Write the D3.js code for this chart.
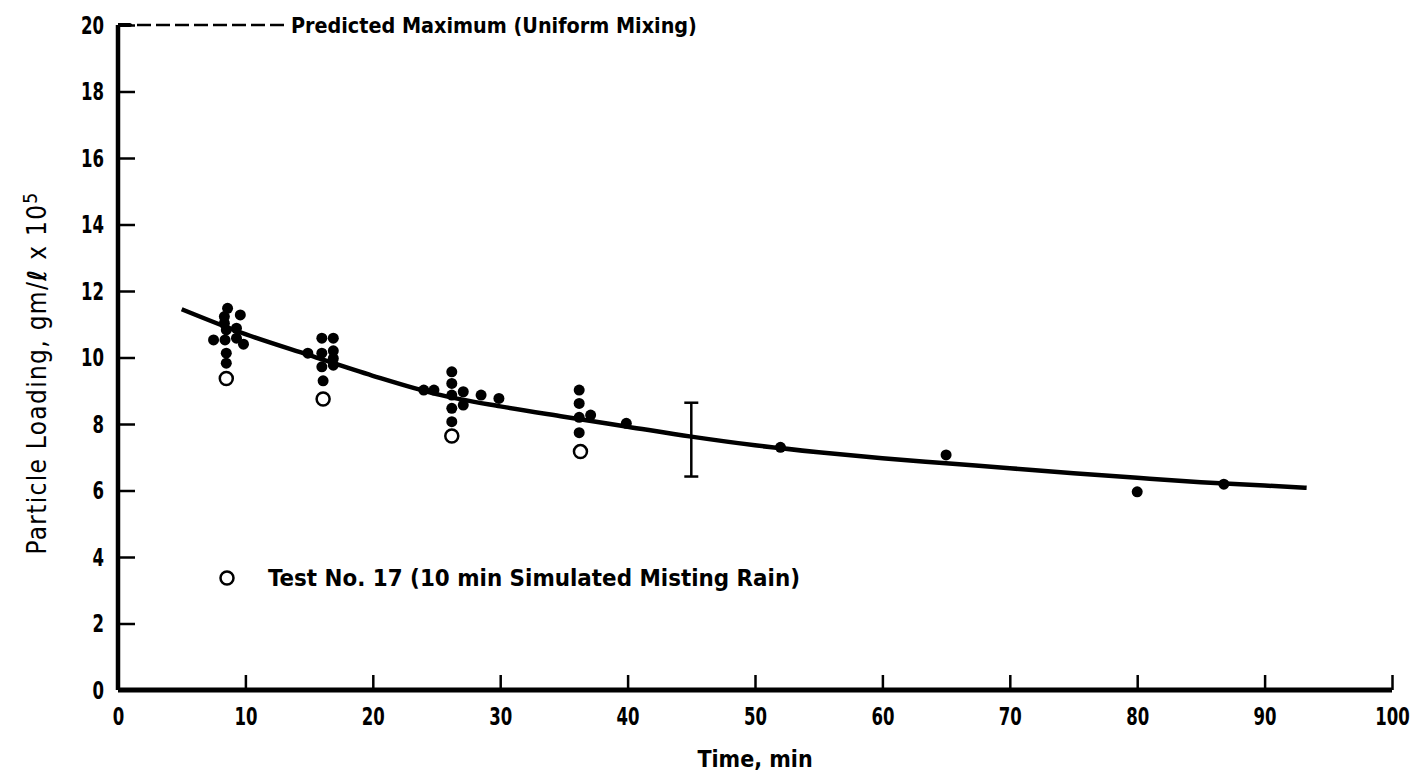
<!DOCTYPE html>
<html>
<head>
<meta charset="utf-8">
<script src="https://cdn.jsdelivr.net/npm/d3@7/dist/d3.min.js"></script>
<style>
  body { margin: 0; background: #fff; }
  text { font-family: "DejaVu Sans Condensed", "DejaVu Sans", sans-serif; font-weight: bold; fill: #000; }
</style>
</head>
<body>
<div id="chart"></div>
<script>
//tick labels
var xTicks = [0, 10, 20, 30, 40, 50, 60, 70, 80, 90, 100];
var yTicks = [0, 2, 4, 6, 8, 10, 12, 14, 16, 18, 20];

//measured particle loading (time, value)
var measuredX = [7.5, 8.35, 8.35, 8.4, 8.5, 8.5, 8.5, 8.6, 9.3, 9.3, 9.6, 9.85,
  14.9, 16.0, 16.0, 16.0, 16.1, 16.9, 16.9, 16.9, 16.9,
  24.0, 24.8, 26.2, 26.2, 26.2, 26.2, 26.2, 27.1, 27.1, 28.5, 29.9,
  36.2, 36.2, 36.2, 36.2, 37.1, 39.9,
  52, 65, 80, 86.8];
var measuredY = [10.53, 11.23, 11.03, 10.53, 10.83, 10.13, 9.83, 11.48, 10.88, 10.58, 11.28, 10.4,
  10.13, 10.58, 10.13, 9.72, 9.3, 10.58, 10.2, 9.97, 9.77,
  9.02, 9.02, 9.57, 9.22, 8.87, 8.47, 8.07, 8.97, 8.57, 8.87, 8.77,
  9.02, 8.62, 8.2, 7.74, 8.27, 8.02,
  7.3, 7.07, 5.96, 6.19];

//test no. 17 (open circles)
var test17X = [8.5, 16.1, 26.2, 36.3];
var test17Y = [9.37, 8.75, 7.64, 7.17];

//fitted curve
var curveX = [5, 10, 15, 20, 25, 30, 35, 40, 45, 50, 55, 60, 65, 70, 75, 80, 85, 90, 93.3];
var curveY = [11.45, 10.7, 10.07, 9.45, 8.9, 8.53, 8.22, 7.92, 7.62, 7.36, 7.15, 6.97, 6.82, 6.67, 6.52, 6.38, 6.25, 6.15, 6.08];

//error bar at 45 min
var errX = 45, errLow = 6.42, errHigh = 8.64;

//predicted maximum (uniform mixing)
var predictedY = 20, predictedEnd = 13.1;

var margin = {top: 25, right: 27, bottom: 93, left: 118},
width = 1419 - margin.left - margin.right,
height = 783 - margin.top - margin.bottom;

var svg = d3.select("#chart")
.append("svg")
.attr("width", width + margin.left + margin.right)
.attr("height", height + margin.top + margin.bottom)
.append("g")
.attr("transform", "translate(" + margin.left + "," + margin.top + ")");

var x = d3.scaleLinear().domain([0, 100]).range([0, width]);
var y = d3.scaleLinear().domain([0, 20]).range([height, 0]);

//x axis, ticks pointing inward
var xAxis = svg.append("g")
  .attr("transform", "translate(0," + height + ")")
  .call(d3.axisBottom(x).tickValues(xTicks).tickSize(-15).tickPadding(30));
xAxis.select(".domain").attr("stroke-width", 5).attr("d", "M0,0H" + width);
xAxis.selectAll(".tick line").attr("stroke-width", 2.5);
xAxis.selectAll(".tick text")
  .style("font-size", "25px").attr("dy", "0.2em")
  .attr("textLength", function(d) { return String(d).length * 11.5; })
  .attr("lengthAdjust", "spacingAndGlyphs");

//y axis
var yAxis = svg.append("g")
  .call(d3.axisLeft(y).tickValues(yTicks).tickSize(-17).tickPadding(14));
yAxis.select(".domain").attr("stroke-width", 4.5).attr("d", "M0," + height + "V0");
yAxis.selectAll(".tick line").attr("stroke-width", 2.5);
yAxis.selectAll(".tick text")
  .style("font-size", "25px")
  .attr("textLength", function(d) { return String(d).length * 11.5; })
  .attr("lengthAdjust", "spacingAndGlyphs");

//predicted maximum dashed line
svg.append("line")
  .attr("x1", x(0)).attr("x2", x(predictedEnd))
  .attr("y1", y(predictedY)).attr("y2", y(predictedY))
  .attr("stroke", "#000").attr("stroke-width", 2.5)
  .attr("stroke-dasharray", "14,5");
svg.append("line")
  .attr("x1", x(0)).attr("x2", x(1))
  .attr("y1", y(predictedY)).attr("y2", y(predictedY))
  .attr("stroke", "#000").attr("stroke-width", 4);
svg.append("text")
  .attr("x", x(predictedEnd) + 6).attr("y", y(predictedY))
  .attr("dy", "0.35em")
  .style("font-size", "22px")
  .attr("textLength", 406).attr("lengthAdjust", "spacingAndGlyphs")
  .text("Predicted Maximum (Uniform Mixing)");

//fitted curve
var line = d3.line()
  .x(function(d, i) { return x(curveX[i]); })
  .y(function(d, i) { return y(curveY[i]); })
  .curve(d3.curveMonotoneX);
svg.append("path")
  .datum(curveX)
  .attr("d", line)
  .attr("fill", "none")
  .attr("stroke", "#000")
  .attr("stroke-width", 4.5);

//error bar
svg.append("line")
  .attr("x1", x(errX)).attr("x2", x(errX))
  .attr("y1", y(errLow)).attr("y2", y(errHigh))
  .attr("stroke", "#000").attr("stroke-width", 2.5);
[errLow, errHigh].forEach(function(v) {
  svg.append("line")
    .attr("x1", x(errX) - 7).attr("x2", x(errX) + 7)
    .attr("y1", y(v)).attr("y2", y(v))
    .attr("stroke", "#000").attr("stroke-width", 2.5);
});

//measured points
svg.selectAll(".dot")
  .data(measuredX)
  .enter().append("circle")
  .attr("class", "dot")
  .attr("cx", function(d) { return x(d); })
  .attr("cy", function(d, i) { return y(measuredY[i]); })
  .attr("r", 5.5)
  .attr("fill", "#000");

//test no. 17 points
svg.selectAll(".open")
  .data(test17X)
  .enter().append("circle")
  .attr("class", "open")
  .attr("cx", function(d) { return x(d); })
  .attr("cy", function(d, i) { return y(test17Y[i]); })
  .attr("r", 6.5)
  .attr("fill", "#fff")
  .attr("stroke", "#000")
  .attr("stroke-width", 2.5);

//legend
svg.append("circle")
  .attr("cx", 227 - margin.left).attr("cy", 578 - margin.top)
  .attr("r", 6.5).attr("fill", "none")
  .attr("stroke", "#000").attr("stroke-width", 2.5);
svg.append("text")
  .attr("x", 268 - margin.left).attr("y", 578 - margin.top)
  .attr("dy", "0.35em")
  .style("font-size", "23px")
  .attr("textLength", 532).attr("lengthAdjust", "spacingAndGlyphs")
  .text("Test No.  17 (10 min Simulated Misting Rain)");

//axis titles
svg.append("text")
  .attr("x", width / 2).attr("y", height + 77)
  .attr("text-anchor", "middle")
  .style("font-size", "23px")
  .text("Time,  min");

var yt = svg.append("text")
  .attr("transform", "translate(-72," + (373 - margin.top) + ") rotate(-90)")
  .attr("text-anchor", "middle")
  .style("font-size", "26px")
  .style("letter-spacing", "1.3px")
  .style("font-weight", "normal");
yt.append("tspan").text("Particle Loading,  gm/");
yt.append("tspan").style("font-style", "italic").style("font-weight", "bold").text("ℓ");
yt.append("tspan").text(" x 10");
yt.append("tspan").attr("dy", "-0.5em").style("font-size", "19px").text("5");
</script>
</body>
</html>
